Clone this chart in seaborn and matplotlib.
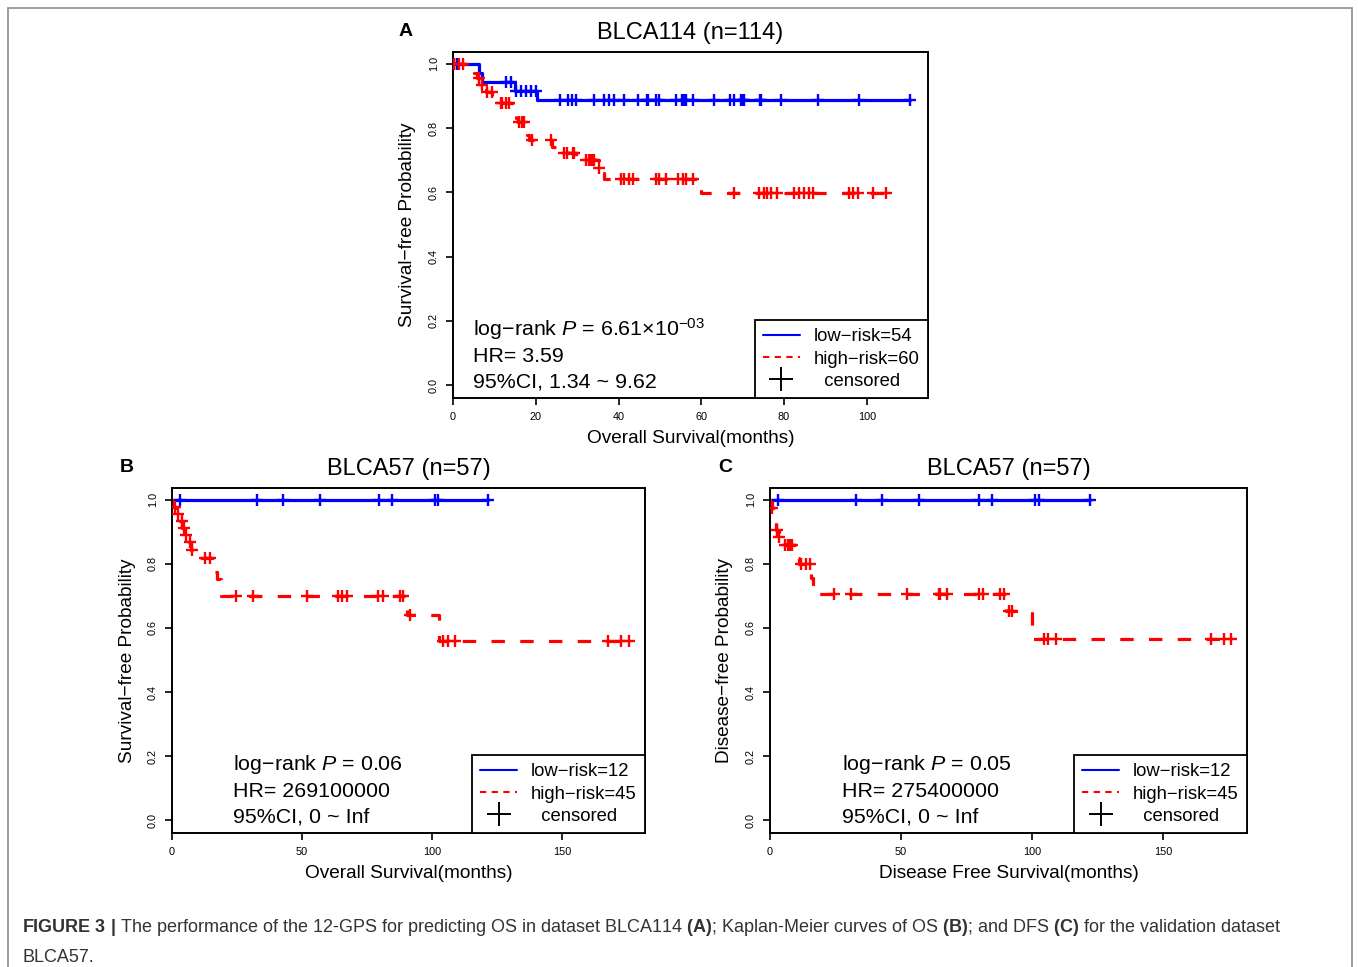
import matplotlib
matplotlib.use('Agg')
import matplotlib.pyplot as plt
import matplotlib.patches as mpatches
from matplotlib.lines import Line2D
from matplotlib.ticker import FormatStrFormatter
from matplotlib import font_manager
import seaborn as sns
import numpy as np

# ---- panel A: BLCA114, overall survival ----
low_a_times = [0, 6.3, 6.9, 15.0, 20.3, 110.4]
low_a_surv = [1.0, 0.972, 0.944, 0.917, 0.889, 0.889]
low_a_cens = [0.3, 1.0, 12.7, 13.9, 15.3, 16.4, 17.6, 18.8, 20.0, 25.8, 27.9, 28.7, 29.8,
              34.1, 36.5, 37.7, 38.9, 41.4, 44.6, 46.8, 47.2, 49.0, 49.8, 54.0, 55.3, 55.9,
              56.3, 58.0, 63.1, 66.9, 68.0, 69.6, 70.0, 70.4, 74.2, 74.5, 79.2, 88.1, 98.2, 110.4]
high_a_times = [0, 5.1, 5.9, 6.5, 8.0, 9.5, 11.0, 15.2, 15.8, 18.0, 18.4, 24.0, 26.8, 29.7,
                35.2, 36.0, 36.6, 59.9, 104.6]
high_a_surv = [1.0, 0.971, 0.955, 0.935, 0.914, 0.893, 0.877, 0.831, 0.820, 0.779, 0.763,
               0.742, 0.722, 0.701, 0.675, 0.659, 0.641, 0.597, 0.597]
high_a_cens = [0.2, 1.5, 2.3, 6.3, 7.1, 8.3, 9.4, 11.5, 11.9, 12.7, 13.5, 15.9, 16.6, 17.2,
               19.2, 23.6, 26.9, 27.6, 28.9, 29.3, 32.1, 32.9, 33.3, 33.7, 34.1, 35.3, 40.6,
               41.4, 42.6, 43.4, 49.0, 49.8, 51.4, 54.3, 55.5, 56.3, 57.9, 67.9, 74.0, 75.2,
               76.0, 76.8, 78.4, 82.5, 83.7, 84.9, 86.1, 86.9, 95.8, 96.6, 97.8, 101.4, 104.6]

# ---- panel B: BLCA57, overall survival ----
low_b_times = [0, 121.7]
low_b_surv = [1.0, 1.0]
low_b_cens = [3.1, 32.6, 42.6, 56.9, 79.6, 84.5, 101.2, 102.4, 121.7]
high_b_times = [0, 0.5, 1.5, 3.2, 4.0, 5.0, 6.5, 7.5, 10.5, 16.4, 17.2, 18.8, 89.8, 90.6,
                102.6, 175.9]
high_b_surv = [1.0, 0.978, 0.956, 0.933, 0.911, 0.889, 0.867, 0.844, 0.820, 0.776, 0.753,
               0.700, 0.664, 0.640, 0.560, 0.560]
high_b_cens = [1.2, 2.4, 3.7, 4.6, 5.4, 6.9, 7.6, 12.7, 14.6, 24.6, 31.3, 51.8, 64.0, 65.6,
               67.2, 79.4, 81.0, 87.7, 89.0, 91.5, 104.4, 106.3, 108.8, 167.8, 172.9, 175.9]

# ---- panel C: BLCA57, disease free survival ----
low_c_times = [0, 122.0]
low_c_surv = [1.0, 1.0]
low_c_cens = [3.2, 32.7, 42.7, 57.0, 79.7, 84.6, 101.3, 102.6, 122.0]
high_c_times = [0, 0.6, 2.0, 2.4, 3.4, 5.6, 10.1, 11.0, 15.8, 16.3, 90.2, 99.8, 175.9]
high_c_surv = [1.0, 0.976, 0.930, 0.907, 0.884, 0.860, 0.820, 0.800, 0.755, 0.707, 0.653,
               0.566, 0.566]
high_c_cens = [0.9, 2.8, 3.5, 5.8, 6.7, 7.6, 8.3, 11.8, 13.7, 15.2, 24.6, 31.0, 52.2, 64.4,
               65.0, 67.6, 79.7, 81.4, 87.8, 89.4, 91.3, 92.2, 104.7, 106.0, 109.2, 168.2,
               173.3, 175.9]

titles = ['BLCA114 (n=114)', 'BLCA57 (n=57)', 'BLCA57 (n=57)']
xlabels = ['Overall Survival(months)', 'Overall Survival(months)', 'Disease Free Survival(months)']
ylabels = ['Survival\u2212free Probability', 'Survival\u2212free Probability',
           'Disease\u2212free Probability']
pvals = [r'log$-$rank $\it{P}$ = 6.61$\times$10$^{-03}$', r'log$-$rank $\it{P}$ = 0.06',
         r'log$-$rank $\it{P}$ = 0.05']
hrs = ['HR= 3.59', 'HR= 269100000', 'HR= 275400000']
cis = ['95%CI, 1.34 ~ 9.62', '95%CI, 0 ~ Inf', '95%CI, 0 ~ Inf']
low_labels = ['low\u2212risk=54', 'low\u2212risk=12', 'low\u2212risk=12']
high_labels = ['high\u2212risk=60', 'high\u2212risk=45', 'high\u2212risk=45']
panel_letters = ['A', 'B', 'C']

caption = (r'$\bf{FIGURE\ 3\ |}$ The performance of the 12-GPS for predicting OS in dataset '
           r'BLCA114 $\bf{(A)}$; Kaplan-Meier curves of OS $\bf{(B)}$; and DFS $\bf{(C)}$ '
           r'for the validation dataset')
caption2 = 'BLCA57.'

BLUE = '#0000FF'
RED = '#FF0000'


def surv_at(times, surv, t):
    idx = np.searchsorted(times, t, side='right') - 1
    return np.asarray(surv)[idx]


def km_panel(ax, i, low, high, xmax, xticks, text_x):
    for (times, surv, cens), col, dashed in [(low, BLUE, False), (high, RED, True)]:
        sns.lineplot(x=times, y=surv, drawstyle='steps-post', estimator=None, sort=False,
                     color=col, linewidth=2.3, ax=ax)
        line = ax.get_lines()[-1]
        if dashed:
            line.set_dashes((4.2, 4.8))
        sns.scatterplot(x=cens, y=surv_at(times, surv, cens), marker='+', s=75,
                        color=col, linewidth=1.7, ax=ax, zorder=3)

    ax.set_xlim(0, xmax)
    ax.set_ylim(-0.04, 1.037)
    ax.set_xticks(xticks)
    ax.set_yticks([0, 0.2, 0.4, 0.6, 0.8, 1.0])
    ax.yaxis.set_major_formatter(FormatStrFormatter('%.1f'))
    ax.tick_params(axis='both', length=5, width=1.2, labelsize=7.8, pad=5, direction='out',
                   left=True, bottom=True, colors='black')
    ax.tick_params(axis='y', labelrotation=90)
    for lab in ax.get_yticklabels():
        lab.set_va('center')
    for sp in ax.spines.values():
        sp.set_visible(True)
        sp.set_linewidth(1.4)
        sp.set_color('black')

    ax.text(0.5, 1.055, titles[i], transform=ax.transAxes, ha='center', va='center', fontsize=17)
    ax.set_xlabel(xlabels[i], fontsize=13.7)
    ax.xaxis.set_label_coords(0.5, -0.116)
    ax.xaxis.label.set_va('center')
    ax.set_ylabel(ylabels[i], fontsize=13.7)
    ax.yaxis.set_label_coords(-0.095, 0.5)
    ax.yaxis.label.set_va('center')

    for yy, txt in zip([0.20, 0.121, 0.045], [pvals[i], hrs[i], cis[i]]):
        ax.text(text_x, yy, txt, transform=ax.transAxes, ha='left', va='center', fontsize=15.4)

    handles = [Line2D([], [], color=BLUE, lw=1.5),
               Line2D([], [], color=RED, lw=1.5, linestyle=(0, (3, 2.6))),
               Line2D([], [], color='black', lw=0, marker='+', markersize=17, markeredgewidth=1.4)]
    leg = ax.legend(handles, [low_labels[i], high_labels[i], '  censored'], loc='lower right',
                    borderaxespad=0, fancybox=False, framealpha=1, edgecolor='black',
                    fontsize=13.3, handlelength=2.0, handletextpad=0.75, labelspacing=0.28,
                    borderpad=0.45)
    leg.get_frame().set_linewidth(1.3)


sns.set_style('white')
plt.rcParams['font.family'] = ['Liberation Sans', 'DejaVu Sans']
plt.rcParams['text.color'] = 'black'
plt.rcParams['axes.labelcolor'] = 'black'
plt.rcParams['mathtext.fontset'] = 'custom'
plt.rcParams['mathtext.rm'] = 'Liberation Sans'
plt.rcParams['mathtext.it'] = 'Liberation Sans:italic'
plt.rcParams['mathtext.bf'] = 'Liberation Sans:bold'

W, H = 1358, 967
fig = plt.figure(figsize=(W / 100, H / 100), dpi=100)


def px_axes(x0, y0, x1, y1):
    return fig.add_axes([x0 / W, 1 - y1 / H, (x1 - x0) / W, (y1 - y0) / H])


ax_a = px_axes(453, 52, 928, 398)
ax_b = px_axes(172, 488, 645, 833)
ax_c = px_axes(770, 488, 1247, 833)

km_panel(ax_a, 0, (low_a_times, low_a_surv, low_a_cens), (high_a_times, high_a_surv, high_a_cens),
         114.8, [0, 20, 40, 60, 80, 100], 0.042)
km_panel(ax_b, 1, (low_b_times, low_b_surv, low_b_cens), (high_b_times, high_b_surv, high_b_cens),
         182, [0, 50, 100, 150], 0.129)
km_panel(ax_c, 2, (low_c_times, low_c_surv, low_c_cens), (high_c_times, high_c_surv, high_c_cens),
         182, [0, 50, 100, 150], 0.151)

for letter, (px, py) in zip(panel_letters, [(406, 32), (127, 467), (725, 467)]):
    fig.text(px / W, 1 - py / H, letter, fontsize=14, fontweight='bold', ha='center', va='center')

# outer frame
fig.patches.append(mpatches.Rectangle((7.5 / W, -0.02), (1351.5 - 7.5) / W, 1.02 - 8 / H,
                                      transform=fig.transFigure, fill=False,
                                      edgecolor='#8c8c8c', linewidth=1.2))

# caption, size fitted to the reference line width
names = {f.name for f in font_manager.fontManager.ttflist}
cap_family = ['Liberation Sans Narrow'] if 'Liberation Sans Narrow' in names else ['Liberation Sans']
cap = fig.text(22 / W, 1 - 928 / H, caption, fontsize=12.5, ha='left', va='center',
               color='#333333', family=cap_family)
fig.canvas.draw()
w = cap.get_window_extent().width
size = 12.5 * (1283 - 22) / w
cap.set_fontsize(size)
fig.text(22 / W, 1 - 957 / H, caption2, fontsize=size, ha='left', va='center',
         color='#333333', family=cap_family)

fig.savefig('out.png', dpi=100)
